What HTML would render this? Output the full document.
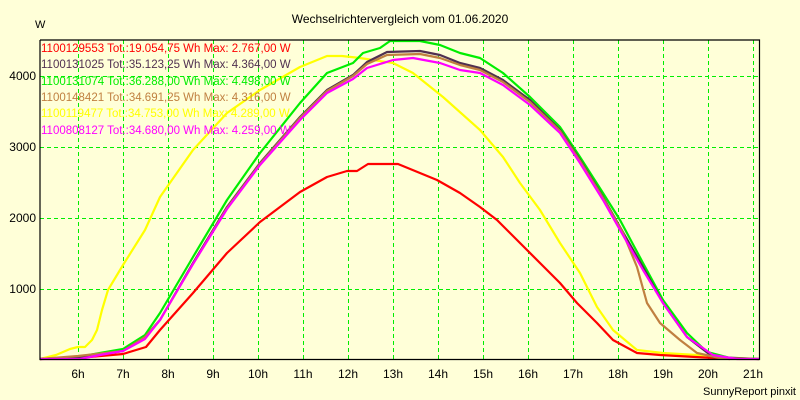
<!DOCTYPE html>
<html><head><style>
html,body{margin:0;padding:0;background:#FFFFD8;}
svg{display:block;font-family:"Liberation Sans",sans-serif;}
</style></head><body>
<svg width="800" height="400" viewBox="0 0 800 400" xmlns="http://www.w3.org/2000/svg">
<rect width="800" height="400" fill="#FFFFD8"/>
<g stroke="#00EE00" stroke-width="1" stroke-dasharray="4,3" fill="none">
<line x1="78.5" y1="40" x2="78.5" y2="359"/><line x1="123.5" y1="40" x2="123.5" y2="359"/><line x1="168.5" y1="40" x2="168.5" y2="359"/><line x1="213.5" y1="40" x2="213.5" y2="359"/><line x1="258.5" y1="40" x2="258.5" y2="359"/><line x1="303.5" y1="40" x2="303.5" y2="359"/><line x1="348.5" y1="40" x2="348.5" y2="359"/><line x1="393.5" y1="40" x2="393.5" y2="359"/><line x1="438.5" y1="40" x2="438.5" y2="359"/><line x1="483.5" y1="40" x2="483.5" y2="359"/><line x1="528.5" y1="40" x2="528.5" y2="359"/><line x1="573.5" y1="40" x2="573.5" y2="359"/><line x1="618.5" y1="40" x2="618.5" y2="359"/><line x1="663.5" y1="40" x2="663.5" y2="359"/><line x1="708.5" y1="40" x2="708.5" y2="359"/><line x1="753.5" y1="40" x2="753.5" y2="359"/>
<line x1="40" y1="76.5" x2="759" y2="76.5"/><line x1="40" y1="147.5" x2="759" y2="147.5"/><line x1="40" y1="218.5" x2="759" y2="218.5"/><line x1="40" y1="289.5" x2="759" y2="289.5"/>
</g>
<g font-size="11" fill="#000">
<text x="400" y="23" text-anchor="middle" font-size="12">Wechselrichtervergleich vom 01.06.2020</text>
<text x="35" y="28">W</text>
<text x="36" y="80" text-anchor="end" font-size="12">4000</text>
<text x="36" y="151" text-anchor="end" font-size="12">3000</text>
<text x="36" y="222" text-anchor="end" font-size="12">2000</text>
<text x="36" y="293" text-anchor="end" font-size="12">1000</text>
<g text-anchor="middle" font-size="12">
<text x="78" y="378">6h</text><text x="123" y="378">7h</text><text x="168" y="378">8h</text><text x="213" y="378">9h</text><text x="258" y="378">10h</text><text x="303" y="378">11h</text><text x="348" y="378">12h</text><text x="393" y="378">13h</text><text x="438" y="378">14h</text><text x="483" y="378">15h</text><text x="528" y="378">16h</text><text x="573" y="378">17h</text><text x="618" y="378">18h</text><text x="663" y="378">19h</text><text x="708" y="378">20h</text><text x="753" y="378">21h</text>
</g>
<text x="796" y="395" text-anchor="end">SunnyReport pinxit</text>
</g>
<g fill="none" stroke-width="2.2" stroke-linejoin="round">
<polyline stroke="#FFFF00" points="40,359 56,355 70,349 78,347 85,347 92,340 97,330 102,310 108,290 123,265 145,230 160,197 193,150 227,113 260,90 300,67 327,56 342,56 360,58 393,63 413,73 443,97 480,130 503,157 520,183 540,210 560,243 580,273 597,307 613,330 637,350 663,353 697,355 713,357 740,359"/>
<polyline stroke="#FF0000" points="40,359 78,358 123,354 146,347 160,330 193,293 227,253 260,222 300,192 327,177 347,171 357,171 368,164 398,164 437,180 460,193 480,207 497,220 527,250 540,263 560,283 577,303 597,323 613,340 637,353 660,355 713,358 730,359"/>
<polyline stroke="#00EE00" points="40,359 78,357 100,353 123,349 145,335 160,313 193,257 227,200 260,153 300,103 327,73 353,63 363,53 380,48 390,41 420,41 440,45 460,53 480,58 503,73 530,97 560,127 580,157 603,193 620,220 643,263 663,300 687,333 707,352 730,358 759,359"/>
<polyline stroke="#503050" points="40,359 78,357 123,351 145,337 160,320 193,263 227,207 260,163 300,117 327,90 353,75 367,62 387,52 420,51 440,55 460,63 480,68 503,80 530,100 560,130 580,160 603,197 620,227 643,267 663,303 687,337 713,357 759,359"/>
<polyline stroke="#C08040" points="40,359 78,356 123,351 145,337 160,320 193,264 227,208 260,164 300,118 327,91 353,76 367,64 387,55 420,54 440,58 460,65 480,70 503,82 530,102 560,131 580,161 603,198 623,233 637,267 647,303 660,323 680,340 697,353 720,358 759,359"/>
<polyline stroke="#FF00FF" points="40,359 80,359 100,355 123,351 145,339 160,320 193,264 227,209 260,165 300,120 327,93 353,79 367,68 393,60 413,58 440,63 460,70 480,73 503,85 530,105 560,133 580,163 603,200 620,230 643,270 663,303 687,337 713,355 737,359 759,359"/>
</g>
<polyline fill="none" stroke="#000" stroke-width="1.2" points="40,40 40,359.5 759.5,359.5 759.5,40 40,40"/>
<g font-size="11.5">
<text x="41" y="52" fill="#FF0000">1100129553 Tot.:19.054,75 Wh Max: 2.767,00 W</text>
<text x="41" y="68" fill="#503050">1100131025 Tot.:35.123,25 Wh Max: 4.364,00 W</text>
<text x="41" y="85" fill="#00EE00">1100131074 Tot.:36.288,00 Wh Max: 4.498,00 W</text>
<text x="41" y="101" fill="#C08040">1100148421 Tot.:34.691,25 Wh Max: 4.316,00 W</text>
<text x="41" y="117" fill="#FFFF00">1100119477 Tot.:34.753,00 Wh Max: 4.289,00 W</text>
<text x="41" y="134" fill="#FF00FF">1100808127 Tot.:34.680,00 Wh Max: 4.259,00 W</text>
</g>
</svg>
</body></html>
